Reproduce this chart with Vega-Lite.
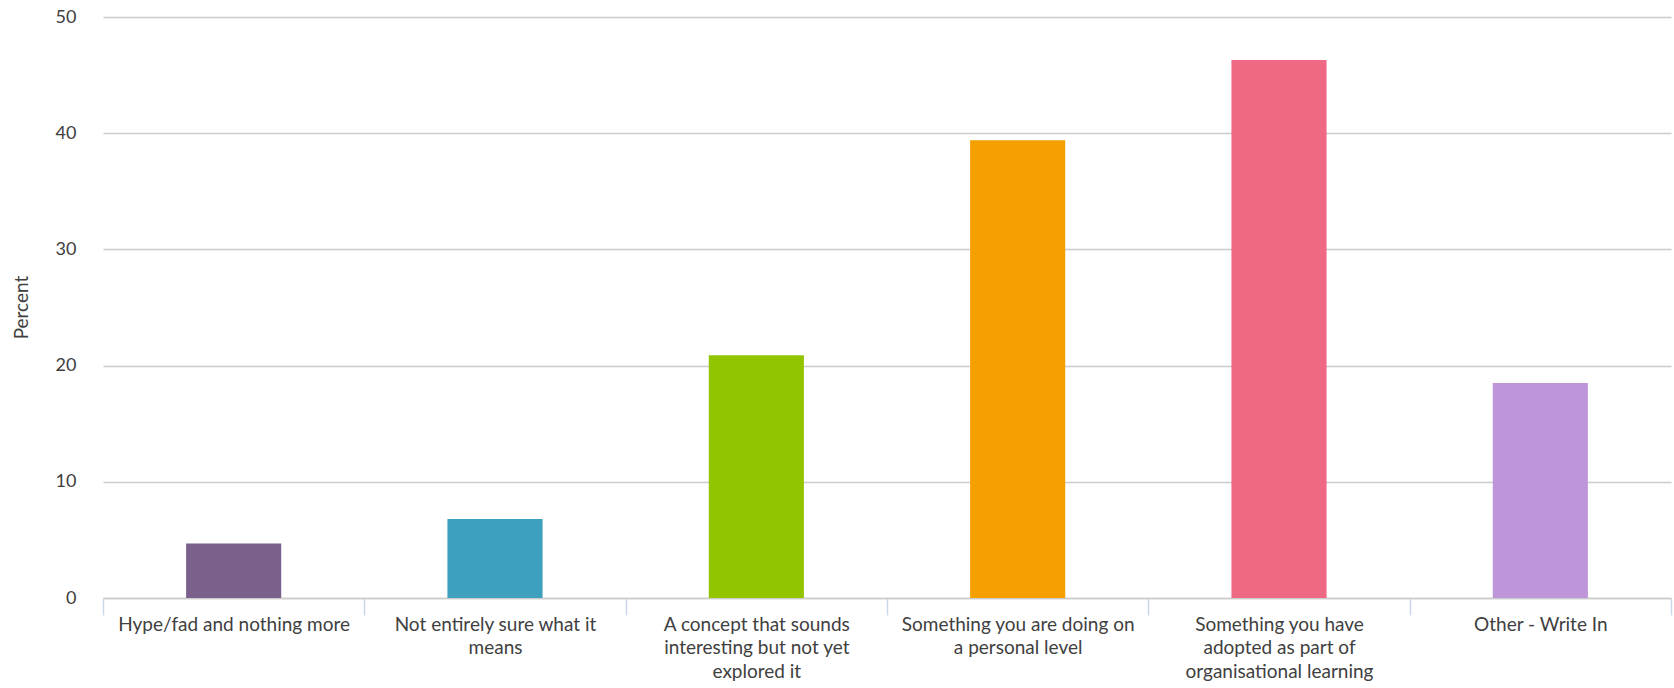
{
  "$schema": "https://vega.github.io/schema/vega-lite/v6.json",
  "width": 1568,
  "height": 581,
  "autosize": {"type": "none"},
  "padding": {"left": 103, "top": 17, "right": 3, "bottom": 90},
  "background": "white",
  "data": {
    "values": [
      {"category": "Hype/fad and nothing more", "percent": 4.7},
      {"category": "Not entirely sure what it means", "percent": 6.8},
      {"category": "A concept that sounds interesting but not yet explored it", "percent": 20.9},
      {"category": "Something you are doing on a personal level", "percent": 39.4},
      {"category": "Something you have adopted as part of organisational learning", "percent": 46.3},
      {"category": "Other - Write In", "percent": 18.5}
    ]
  },
  "mark": {"type": "bar", "width": {"band": 0.364}},
  "encoding": {
    "x": {
      "field": "category",
      "type": "nominal",
      "sort": null,
      "scale": {"paddingInner": 0, "paddingOuter": 0},
      "axis": {
        "title": null,
        "labelAngle": 0,
        "labelFont": "Lato",
        "labelFontSize": 19,
        "labelColor": "#404040",
        "labelPadding": 0,
        "labelBaseline": "top",
        "labelLineHeight": 23.5,
        "labelLimit": 0,
        "tickBand": "extent",
        "tickSize": 17,
        "tickColor": "#ccd6eb",
        "tickWidth": 1.5,
        "domainColor": "#cccccc",
        "domainWidth": 1.5,
        "labelExpr": "datum.label == 'Not entirely sure what it means' ? ['Not entirely sure what it', 'means'] : datum.label == 'A concept that sounds interesting but not yet explored it' ? ['A concept that sounds', 'interesting but not yet', 'explored it'] : datum.label == 'Something you are doing on a personal level' ? ['Something you are doing on', 'a personal level'] : datum.label == 'Something you have adopted as part of organisational learning' ? ['Something you have', 'adopted as part of', 'organisational learning'] : datum.label"
      }
    },
    "y": {
      "field": "percent",
      "type": "quantitative",
      "scale": {"domain": [0, 50], "nice": false},
      "axis": {
        "title": "Percent",
        "titleFont": "Lato",
        "titleFontSize": 19,
        "titleFontWeight": "normal",
        "titleColor": "#404040",
        "titleX": -82,
        "titleY": 290,
        "titleAlign": "center",
        "titleBaseline": "middle",
        "values": [0, 10, 20, 30, 40, 50],
        "labelFont": "Lato",
        "labelFontSize": 18,
        "labelColor": "#404040",
        "labelPadding": 27,
        "ticks": false,
        "domain": false,
        "gridColor": "#cccccc",
        "gridWidth": 1.5
      }
    },
    "color": {
      "field": "category",
      "type": "nominal",
      "sort": null,
      "legend": null,
      "scale": {
        "domain": [
          "Hype/fad and nothing more",
          "Not entirely sure what it means",
          "A concept that sounds interesting but not yet explored it",
          "Something you are doing on a personal level",
          "Something you have adopted as part of organisational learning",
          "Other - Write In"
        ],
        "range": ["#79618c", "#3da0bf", "#92c500", "#f5a000", "#ef6884", "#be95d8"]
      }
    }
  },
  "config": {"view": {"stroke": null}}
}
